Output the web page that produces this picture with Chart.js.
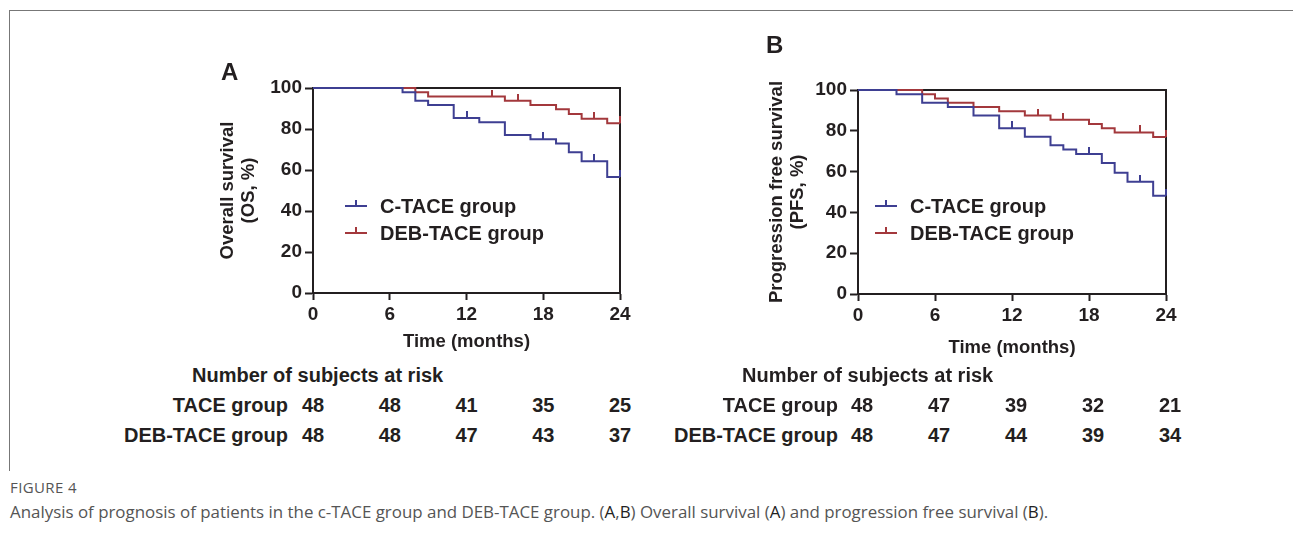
<!DOCTYPE html>
<html><head><meta charset="utf-8">
<script src="https://cdn.jsdelivr.net/npm/chart.js@4.4.1/dist/chart.umd.min.js"></script>
<style>
html,body{margin:0;padding:0;background:#fff;}
body{width:1293px;height:533px;position:relative;overflow:hidden;font-family:"Liberation Sans",Arial,sans-serif;}
.frame{position:absolute;left:9px;top:10px;width:1290px;height:460px;border-top:1px solid #777;border-left:1px solid #777;}
canvas{position:absolute;}
.t{position:absolute;font-weight:bold;color:#231f20;white-space:nowrap;line-height:20px;height:20px;}
.sym{position:absolute;width:22px;height:0;}
.sym i{position:absolute;left:10px;top:-7px;width:2px;height:6px;}
.cap1{position:absolute;left:10px;top:477px;font-family:"Open Sans",sans-serif;font-size:15px;color:#555;letter-spacing:0.4px;white-space:nowrap;}
.cap2{position:absolute;left:10px;top:500px;font-family:"Open Sans",sans-serif;font-size:16.9px;color:#555;white-space:nowrap;}
.cap2 b{font-weight:normal;color:#222;}
</style>
</head><body>
<div class="frame"></div>
<canvas id="cA" width="490" height="310" style="left:150px;top:50px"></canvas>
<canvas id="cB" width="490" height="315" style="left:700px;top:50px"></canvas>
<div class="t" style="left:221px;top:60px;font-size:24px;line-height:24px;">A</div>
<div class="t" style="left:766px;top:33px;font-size:24px;line-height:24px;">B</div>
<div id="extra"></div>
<div class="cap1">FIGURE 4</div>
<div class="cap2">Analysis of prognosis of patients in the c-TACE group and DEB-TACE group. (<b>A</b>,<b>B</b>) Overall survival (<b>A</b>) and progression free survival (<b>B</b>).</div>
<script>
// ---- data ----
const osTimeC = [0, 7, 8, 9, 11, 13, 15, 17, 19, 20, 21, 23, 24];
const osSurvC = [100, 97.9, 93.8, 91.7, 85.4, 83.3, 77.1, 75.0, 72.9, 68.6, 64.3, 56.6, 56.6];
const osTimeD = [0, 8, 9, 15, 17, 19, 20, 21, 23, 24];
const osSurvD = [100, 97.9, 95.8, 93.8, 91.7, 89.6, 87.3, 85.0, 82.8, 82.8];
const osCensTimeC = [12, 18, 22, 24];
const osCensSurvC = [85.4, 75.0, 64.3, 56.6];
const osCensTimeD = [14, 16, 22, 24];
const osCensSurvD = [95.8, 93.8, 85.0, 82.8];

const pfsTimeC = [0, 3, 5, 7, 9, 11, 13, 15, 16, 17, 19, 20, 21, 23, 24];
const pfsSurvC = [100, 97.9, 93.8, 91.7, 87.5, 81.3, 77.1, 72.9, 70.8, 68.6, 64.2, 59.4, 55.0, 48.2, 48.2];
const pfsTimeD = [0, 5, 6, 7, 9, 11, 13, 15, 18, 19, 20, 23, 24];
const pfsSurvD = [100, 97.9, 95.8, 93.8, 91.7, 89.6, 87.5, 85.4, 83.3, 81.3, 79.2, 77.0, 77.0];
const pfsCensTimeC = [12, 18, 22, 24];
const pfsCensSurvC = [81.3, 68.6, 55.0, 48.2];
const pfsCensTimeD = [14, 16, 22, 24];
const pfsCensSurvD = [87.5, 85.4, 79.2, 77.0];

const xTicks = [0, 6, 12, 18, 24];
const yTicks = [0, 20, 40, 60, 80, 100];
const riskTimes = [0, 6, 12, 18, 24];
const osRiskC = [48, 48, 41, 35, 25];
const osRiskD = [48, 48, 47, 43, 37];
const pfsRiskC = [48, 47, 39, 32, 21];
const pfsRiskD = [48, 47, 44, 39, 34];
const seriesNames = ['C-TACE group', 'DEB-TACE group'];
const riskRowNames = ['TACE group', 'DEB-TACE group'];

// ---- style ----
const INK = '#231f20';
const BLUE = '#3e3f92';
const RED = '#a3383c';
const FAM = '"Liberation Sans", Arial, sans-serif';

function tickImg(color) {
  const c = document.createElement('canvas');
  c.width = 2; c.height = 14;
  const g = c.getContext('2d');
  g.fillStyle = color; g.fillRect(0, 0, 2, 7);
  return c;
}
const xy = (t, v) => t.map((x, i) => ({x: x, y: v[i]}));

const framePlugin = {
  id: 'frame',
  beforeDatasetsDraw(chart) {
    const a = chart.chartArea, ctx = chart.ctx;
    ctx.save();
    ctx.strokeStyle = INK; ctx.lineWidth = 2;
    ctx.beginPath();
    ctx.moveTo(a.left, a.top); ctx.lineTo(a.right, a.top); ctx.lineTo(a.right, a.bottom);
    ctx.stroke();
    ctx.restore();
  }
};

function makeKM(id, curves, yTitle, L) {
  const ds = [];
  curves.forEach(c => {
    ds.push({data: xy(c.t, c.s), stepped: true, borderColor: c.color, borderWidth: 2,
      pointRadius: 0, fill: false, clip: false});
    ds.push({data: xy(c.ct, c.cs), showLine: false, pointStyle: tickImg(c.color),
      pointRadius: 4, borderColor: c.color, backgroundColor: c.color, clip: false});
  });
  return new Chart(document.getElementById(id), {
    type: 'line',
    data: {datasets: ds},
    options: {
      responsive: false, animation: false, devicePixelRatio: 1,
      layout: {padding: {top: L.top, right: L.right, left: 0, bottom: 0}},
      plugins: {legend: {display: false}, tooltip: {enabled: false}},
      scales: {
        x: {type: 'linear', min: 0, max: 24,
          afterBuildTicks: s => { s.ticks = xTicks.map(v => ({value: v})); },
          ticks: {color: INK, font: {family: FAM, size: 19, weight: 'bold'}, padding: 3, maxRotation: 0},
          grid: {drawOnChartArea: false, drawTicks: true, tickLength: 7, tickWidth: 2, tickColor: INK},
          border: {display: true, color: INK, width: 2},
          title: {display: true, text: 'Time (months)', color: INK,
            font: {family: FAM, size: 18.5, weight: 'bold', lineHeight: 1.1}, padding: {top: 0, bottom: L.xtb}},
          afterFit: s => { s.height = L.xh; }
        },
        y: {type: 'linear', min: 0, max: 100,
          afterBuildTicks: s => { s.ticks = yTicks.map(v => ({value: v})); },
          ticks: {color: INK, font: {family: FAM, size: 19, weight: 'bold'}, padding: 3},
          grid: {drawOnChartArea: false, drawTicks: true, tickLength: 8, tickWidth: 2, tickColor: INK},
          border: {display: true, color: INK, width: 2},
          title: {display: true, text: yTitle, color: INK,
            font: {family: FAM, size: 18.5, weight: 'bold', lineHeight: 1.1}, padding: {top: L.ytp, bottom: 0}},
          afterFit: s => { s.width = L.yw; }
        }
      }
    },
    plugins: [framePlugin]
  });
}

const chartA = makeKM('cA', [
  {t: osTimeC, s: osSurvC, ct: osCensTimeC, cs: osCensSurvC, color: BLUE},
  {t: osTimeD, s: osSurvD, ct: osCensTimeD, cs: osCensSurvD, color: RED}
], ['Overall survival', '(OS, %)'], {top: 38, right: 20, yw: 163, xh: 67, xtb: 8, ytp: 68});

const chartB = makeKM('cB', [
  {t: pfsTimeC, s: pfsSurvC, ct: pfsCensTimeC, cs: pfsCensSurvC, color: BLUE},
  {t: pfsTimeD, s: pfsSurvD, ct: pfsCensTimeD, cs: pfsCensSurvD, color: RED}
], ['Progression free survival', '(PFS, %)'], {top: 40, right: 24, yw: 158, xh: 71, xtb: 7, ytp: 67});

const extra = document.getElementById('extra');
function addText(txt, left, top, size, align) {
  const d = document.createElement('div');
  d.className = 't';
  d.textContent = txt;
  d.style.fontSize = size + 'px';
  d.style.top = top + 'px';
  if (align === 'right') { d.style.right = (1293 - left) + 'px'; }
  else if (align === 'center') { d.style.left = left + 'px'; d.style.transform = 'translateX(-50%)'; }
  else { d.style.left = left + 'px'; }
  extra.appendChild(d);
  return d;
}
function addLegend(x, y, color, label) {
  const s = document.createElement('div');
  s.className = 'sym';
  s.style.left = x + 'px'; s.style.top = (y - 1) + 'px';
  s.style.borderTop = '2px solid ' + color;
  const i = document.createElement('i'); i.style.background = color; s.appendChild(i);
  extra.appendChild(s);
  addText(label, x + 35, y - 10, 20, 'left');
}
function addRisk(chart, canvasLeft, dx, labelRight, headLeft, rows) {
  addText('Number of subjects at risk', headLeft, 365, 20, 'left');
  rows.forEach((r, k) => {
    const top = 395 + k * 30;
    addText(riskRowNames[k], labelRight, top, 20, 'right');
    riskTimes.forEach((t, j) => {
      const px = canvasLeft + chart.scales.x.getPixelForValue(t) + dx;
      addText(String(r[j]), px, top, 20, 'center');
    });
  });
}
addLegend(345, 206, BLUE, seriesNames[0]);
addLegend(345, 233, RED, seriesNames[1]);
addLegend(875, 206, BLUE, seriesNames[0]);
addLegend(875, 233, RED, seriesNames[1]);
addRisk(chartA, 150, 0, 288, 192, [osRiskC, osRiskD]);
addRisk(chartB, 700, 4, 838, 742, [pfsRiskC, pfsRiskD]);
</script>
</body></html>
